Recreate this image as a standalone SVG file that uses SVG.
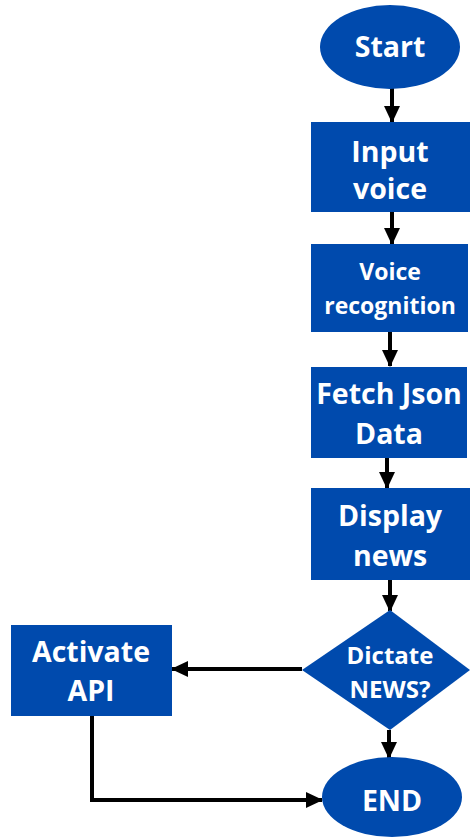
<svg xmlns="http://www.w3.org/2000/svg" width="471" height="838" viewBox="0 0 471 838">
<style>
.n{fill:#004aad}
.t{fill:#fff;font-family:"Open Sans","Noto Sans",sans-serif;font-weight:bold;text-anchor:middle;font-size:28.5px}
.s{font-size:23px}
.c{stroke:#000;stroke-width:4;fill:none;marker-end:url(#ah)}
</style>
<defs>
<marker id="ah" markerUnits="userSpaceOnUse" markerWidth="18" markerHeight="18" viewBox="0 0 18 18" refX="16" refY="9" orient="auto">
<path d="M0,1 L17,9 L0,17 Z" fill="#000"/>
</marker>
</defs>
<rect width="471" height="838" fill="#fff"/>
<g id="connectors">
<path class="c" d="M392,88 V122"/>
<path class="c" d="M392,212 V244"/>
<path class="c" d="M390,332 V366"/>
<path class="c" d="M387,458 V488"/>
<path class="c" d="M390,580 V611"/>
<path class="c" d="M302,669 H172"/>
<path class="c" d="M389,730 V758"/>
<path class="c" d="M92,716 V800 H322"/>
</g>
<g id="start"><ellipse class="n" cx="390" cy="47" rx="70" ry="42"/><text class="t" x="390" y="57">Start</text></g>
<g id="input"><rect class="n" x="311" y="122" width="159" height="90"/><text class="t" x="390" y="162">Input</text><text class="t" x="390" y="199">voice</text></g>
<g id="recognition"><rect class="n" x="311" y="244" width="157" height="88"/><text class="t s" x="390" y="280">Voice</text><text class="t s" x="390" y="314">recognition</text></g>
<g id="fetch"><rect class="n" x="311" y="367" width="156" height="91"/><text class="t" x="389" y="404">Fetch Json</text><text class="t" x="389" y="444">Data</text></g>
<g id="display"><rect class="n" x="311" y="488" width="159" height="92"/><text class="t" x="390" y="526">Display</text><text class="t" x="390" y="566">news</text></g>
<g id="decision"><polygon class="n" points="390,610 470,670 390,730 302,670"/><text class="t" x="390" y="664" style="font-size:24px">Dictate</text><text class="t" x="390" y="698" style="font-size:24px">NEWS?</text></g>
<g id="activate"><rect class="n" x="11" y="625" width="161" height="91"/><text class="t" x="91" y="662">Activate</text><text class="t" x="91" y="701">API</text></g>
<g id="end"><ellipse class="n" cx="392" cy="797" rx="70" ry="40"/><text class="t" x="392" y="811">END</text></g>
</svg>
